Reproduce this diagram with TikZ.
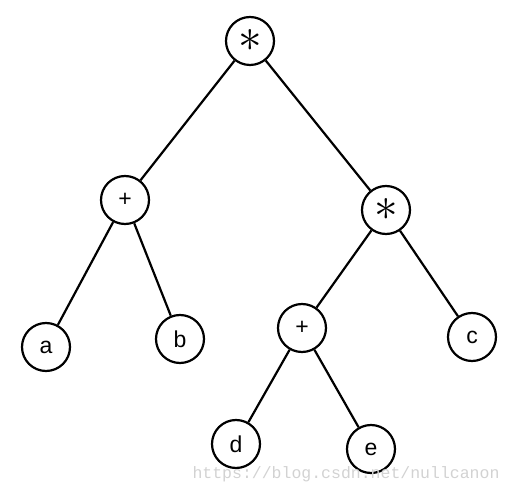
\documentclass[tikz,border=0pt]{standalone}
\usepackage{fontspec}
\setmainfont{Liberation Sans}
\newfontfamily\markfont{Liberation Mono}
\usetikzlibrary{positioning}
\newcommand{\bigstar}{\scalebox{1.9}{$*$}}

\begin{document}
\begin{tikzpicture}[x=1pt, y=-1pt, line width=2.2pt,
  every node/.style={font=\fontsize{23}{25}\selectfont},
  vertex/.style={circle, draw, line width=2.2pt, minimum size=48pt, inner sep=0pt}]
  \useasboundingbox (0,0) rectangle (512,494);
  \node[vertex] (root) at (250,41) {\bigstar};
  \node[vertex] (plusl) at (125,200) {+};
  \node[vertex] (mulr) at (386,210) {\bigstar};
  \node[vertex] (a) at (46,347) {a};
  \node[vertex] (b) at (180,339) {b};
  \node[vertex] (plusr) at (302,328) {+};
  \node[vertex] (c) at (472,337) {c};
  \node[vertex] (d) at (236,444) {d};
  \node[vertex] (e) at (371,449) {e};
  \draw (root) -- (plusl);
  \draw (root) -- (mulr);
  \draw (plusl) -- (a);
  \draw (plusl) -- (b);
  \draw (mulr) -- (plusr);
  \draw (mulr) -- (c);
  \draw (plusr) -- (d);
  \draw (plusr) -- (e);
  % watermark
  \node[font=\markfont\fontsize{16.5}{18}\selectfont, text=gray!35] (mark) at (346,474) {https://blog.csdn.net/nullcanon};
\end{tikzpicture}
\end{document}
